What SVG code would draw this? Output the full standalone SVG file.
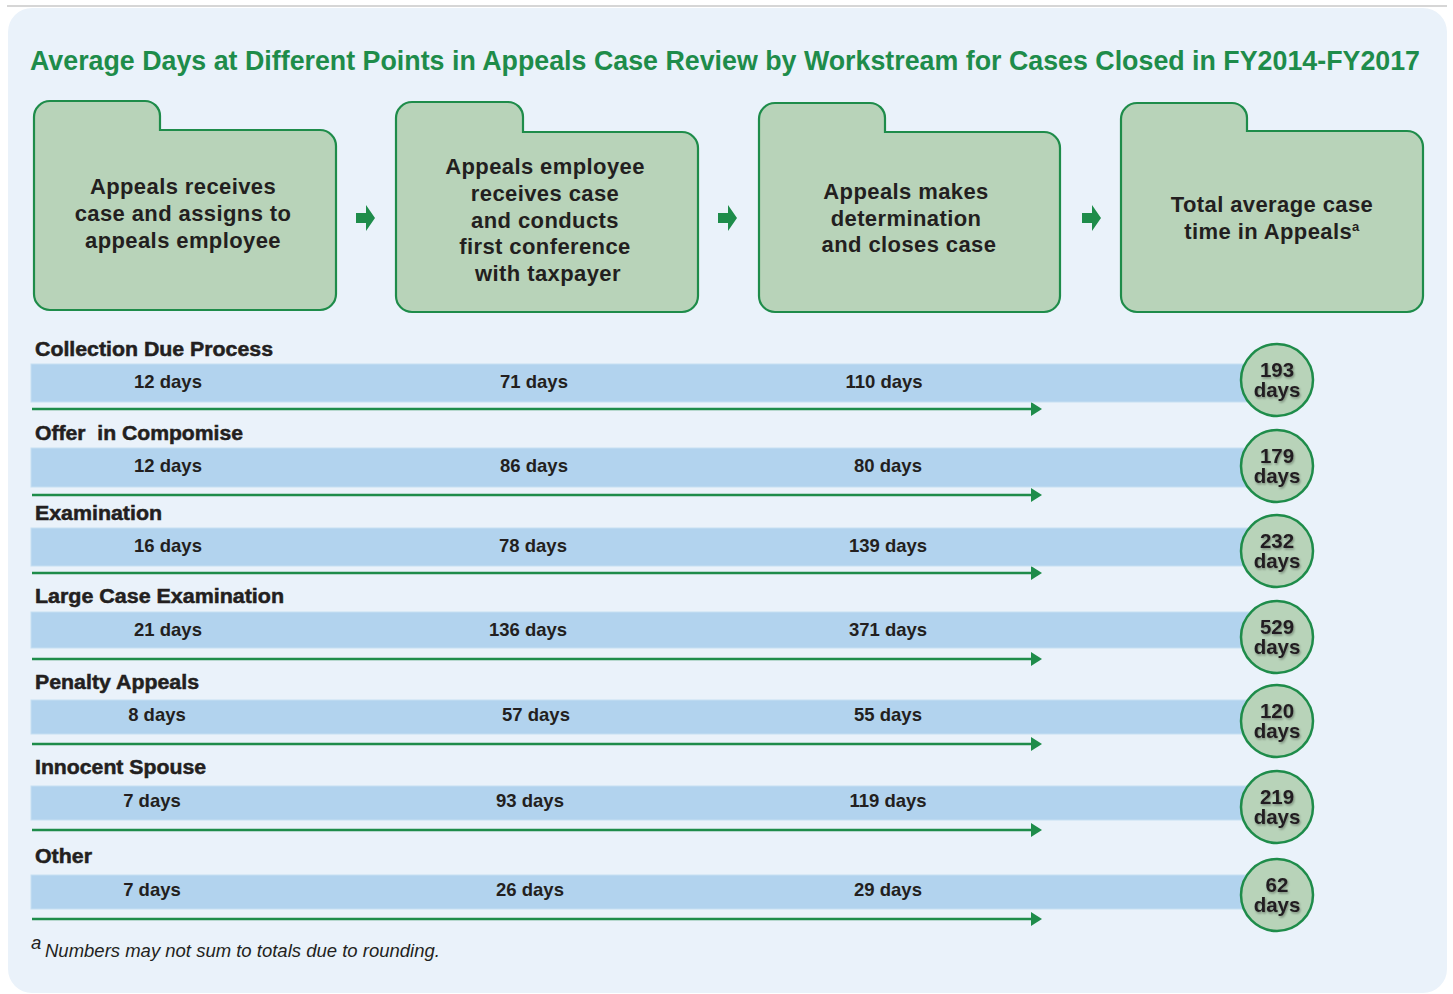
<svg xmlns="http://www.w3.org/2000/svg" width="1453" height="994" viewBox="0 0 1453 994">
<defs>
<style>
.title{font-family:"Liberation Sans",Arial,sans-serif;font-weight:bold;font-size:26.8px;fill:#1E8C4A}
.folder{fill:#B8D3B9;stroke:#1E8C4A;stroke-width:2.2}
.ftxt{font-family:"Liberation Sans",Arial,sans-serif;font-weight:bold;font-size:22px;letter-spacing:0.4px;fill:#231F20;text-anchor:middle}
.lbl{font-family:"Liberation Sans",Arial,sans-serif;font-weight:bold;font-size:20px;fill:#231F20;stroke:#231F20;stroke-width:0.5;white-space:pre}
.bar{fill:#B2D3EE;stroke:#C6DFF2;stroke-width:1}
.btxt{font-family:"Liberation Sans",Arial,sans-serif;font-weight:bold;font-size:18.5px;fill:#231F20;text-anchor:middle}
.circ{fill:#B8D3B9;stroke:#1E8C4A;stroke-width:2.5}
.ctxt{font-family:"Liberation Sans",Arial,sans-serif;font-weight:bold;font-size:20.5px;fill:#231F20;text-anchor:middle;filter:url(#sh)}
.rowarrow{stroke:#1E8C4A;stroke-width:2.6;fill:none;marker-end:url(#ah)}
.blk{fill:#1E8C4A}
.foot{font-family:"Liberation Sans",Arial,sans-serif;font-size:18.5px;font-style:italic;fill:#231F20}
</style>
<marker id="ah" markerWidth="12" markerHeight="14" refX="1" refY="7" orient="auto" markerUnits="userSpaceOnUse">
<path d="M0,0 L11,7 L0,14 Z" fill="#1E8C4A"/>
</marker>
<filter id="sh" x="-20%" y="-20%" width="150%" height="160%">
<feDropShadow dx="1" dy="1.5" stdDeviation="1" flood-color="#000" flood-opacity="0.35"/>
</filter>
</defs>

<line x1="7" y1="6" x2="1447" y2="6" stroke="#C8C8C8" stroke-width="1.5"/>
<rect x="8" y="8" width="1439" height="985" rx="24" fill="#EAF2FA"/>

<text class="title" x="30" y="70">Average Days at Different Points in Appeals Case Review by Workstream for Cases Closed in FY2014-FY2017</text>

<g id="step1">
<path class="folder" d="M50,101 H145 A15,15 0 0 1 160,116 V130 H320 A16,16 0 0 1 336,146 V294 A16,16 0 0 1 320,310 H50 A16,16 0 0 1 34,294 V117 A16,16 0 0 1 50,101 Z"/>
<text class="ftxt" x="183" y="194">Appeals receives</text>
<text class="ftxt" x="183" y="221">case and assigns to</text>
<text class="ftxt" x="183" y="248">appeals employee</text>
</g>

<g id="step2">
<path class="folder" d="M412,102 H508 A15,15 0 0 1 523,117 V132 H682 A16,16 0 0 1 698,148 V296 A16,16 0 0 1 682,312 H412 A16,16 0 0 1 396,296 V118 A16,16 0 0 1 412,102 Z"/>
<text class="ftxt" x="545" y="174">Appeals employee</text>
<text class="ftxt" x="545" y="201">receives case</text>
<text class="ftxt" x="545" y="228">and conducts</text>
<text class="ftxt" x="545" y="254">first conference</text>
<text class="ftxt" x="548" y="281">with taxpayer</text>
</g>

<g id="step3">
<path class="folder" d="M775,103 H870 A15,15 0 0 1 885,118 V132 H1044 A16,16 0 0 1 1060,148 V296 A16,16 0 0 1 1044,312 H775 A16,16 0 0 1 759,296 V119 A16,16 0 0 1 775,103 Z"/>
<text class="ftxt" x="906" y="199">Appeals makes</text>
<text class="ftxt" x="906" y="226">determination</text>
<text class="ftxt" x="909" y="252">and closes case</text>
</g>

<g id="total">
<path class="folder" d="M1137,103 H1232 A15,15 0 0 1 1247,118 V131 H1407 A16,16 0 0 1 1423,147 V296 A16,16 0 0 1 1407,312 H1137 A16,16 0 0 1 1121,296 V119 A16,16 0 0 1 1137,103 Z"/>
<text class="ftxt" x="1272" y="212">Total average case</text>
<text class="ftxt" x="1272" y="239">time in Appeals<tspan font-size="13" dy="-8">a</tspan></text>
</g>

<g id="connectors">
<path class="blk" d="M356,213 H366 V205 L375,218 L366,231 V223 H356 Z"/>
<path class="blk" d="M718,213 H728 V205 L737,218 L728,231 V223 H718 Z"/>
<path class="blk" d="M1082,213 H1092 V205 L1101,218 L1092,231 V223 H1082 Z"/>
<line class="rowarrow" x1="32" y1="409" x2="1032" y2="409"/>
<line class="rowarrow" x1="32" y1="495" x2="1032" y2="495"/>
<line class="rowarrow" x1="32" y1="573" x2="1032" y2="573"/>
<line class="rowarrow" x1="32" y1="659" x2="1032" y2="659"/>
<line class="rowarrow" x1="32" y1="744" x2="1032" y2="744"/>
<line class="rowarrow" x1="32" y1="830" x2="1032" y2="830"/>
<line class="rowarrow" x1="32" y1="919" x2="1032" y2="919"/>
</g>

<g id="row-cdp">
<text class="lbl" x="35" y="356" textLength="238" lengthAdjust="spacingAndGlyphs">Collection Due Process</text>
<rect class="bar" x="31" y="364" width="1220" height="38"/>
<text class="btxt" x="168" y="388">12 days</text>
<text class="btxt" x="534" y="388">71 days</text>
<text class="btxt" x="884" y="388">110 days</text>
<circle class="circ" cx="1277" cy="380" r="36"/>
<text class="ctxt" x="1277" y="377">193</text>
<text class="ctxt" x="1277" y="397">days</text>
</g>

<g id="row-oic">
<text class="lbl" x="35" y="440" textLength="208" lengthAdjust="spacingAndGlyphs" xml:space="preserve">Offer  in Compomise</text>
<rect class="bar" x="31" y="448" width="1220" height="39"/>
<text class="btxt" x="168" y="472">12 days</text>
<text class="btxt" x="534" y="472">86 days</text>
<text class="btxt" x="888" y="472">80 days</text>
<circle class="circ" cx="1277" cy="466" r="36"/>
<text class="ctxt" x="1277" y="463">179</text>
<text class="ctxt" x="1277" y="483">days</text>
</g>

<g id="row-exam">
<text class="lbl" x="35" y="520" textLength="127" lengthAdjust="spacingAndGlyphs">Examination</text>
<rect class="bar" x="31" y="528" width="1220" height="38"/>
<text class="btxt" x="168" y="552">16 days</text>
<text class="btxt" x="533" y="552">78 days</text>
<text class="btxt" x="888" y="552">139 days</text>
<circle class="circ" cx="1277" cy="551" r="36"/>
<text class="ctxt" x="1277" y="548">232</text>
<text class="ctxt" x="1277" y="568">days</text>
</g>

<g id="row-lce">
<text class="lbl" x="35" y="603" textLength="249" lengthAdjust="spacingAndGlyphs">Large Case Examination</text>
<rect class="bar" x="31" y="612" width="1220" height="36"/>
<text class="btxt" x="168" y="636">21 days</text>
<text class="btxt" x="528" y="636">136 days</text>
<text class="btxt" x="888" y="636">371 days</text>
<circle class="circ" cx="1277" cy="637" r="36"/>
<text class="ctxt" x="1277" y="634">529</text>
<text class="ctxt" x="1277" y="654">days</text>
</g>

<g id="row-penalty">
<text class="lbl" x="35" y="689" textLength="164" lengthAdjust="spacingAndGlyphs">Penalty Appeals</text>
<rect class="bar" x="31" y="700" width="1220" height="34"/>
<text class="btxt" x="157" y="721">8 days</text>
<text class="btxt" x="536" y="721">57 days</text>
<text class="btxt" x="888" y="721">55 days</text>
<circle class="circ" cx="1277" cy="721" r="36"/>
<text class="ctxt" x="1277" y="718">120</text>
<text class="ctxt" x="1277" y="738">days</text>
</g>

<g id="row-innocent">
<text class="lbl" x="35" y="774" textLength="171" lengthAdjust="spacingAndGlyphs">Innocent Spouse</text>
<rect class="bar" x="31" y="786" width="1220" height="34"/>
<text class="btxt" x="152" y="807">7 days</text>
<text class="btxt" x="530" y="807">93 days</text>
<text class="btxt" x="888" y="807">119 days</text>
<circle class="circ" cx="1277" cy="807" r="36"/>
<text class="ctxt" x="1277" y="804">219</text>
<text class="ctxt" x="1277" y="824">days</text>
</g>

<g id="row-other">
<text class="lbl" x="35" y="863" textLength="57" lengthAdjust="spacingAndGlyphs">Other</text>
<rect class="bar" x="31" y="875" width="1220" height="34"/>
<text class="btxt" x="152" y="896">7 days</text>
<text class="btxt" x="530" y="896">26 days</text>
<text class="btxt" x="888" y="896">29 days</text>
<circle class="circ" cx="1277" cy="895" r="36"/>
<text class="ctxt" x="1277" y="892">62</text>
<text class="ctxt" x="1277" y="912">days</text>
</g>

<g id="footnote">
<text class="foot" x="31" y="949" font-size="13" font-style="normal">a</text>
<text class="foot" x="45" y="957">Numbers may not sum to totals due to rounding.</text>
</g>
</svg>
